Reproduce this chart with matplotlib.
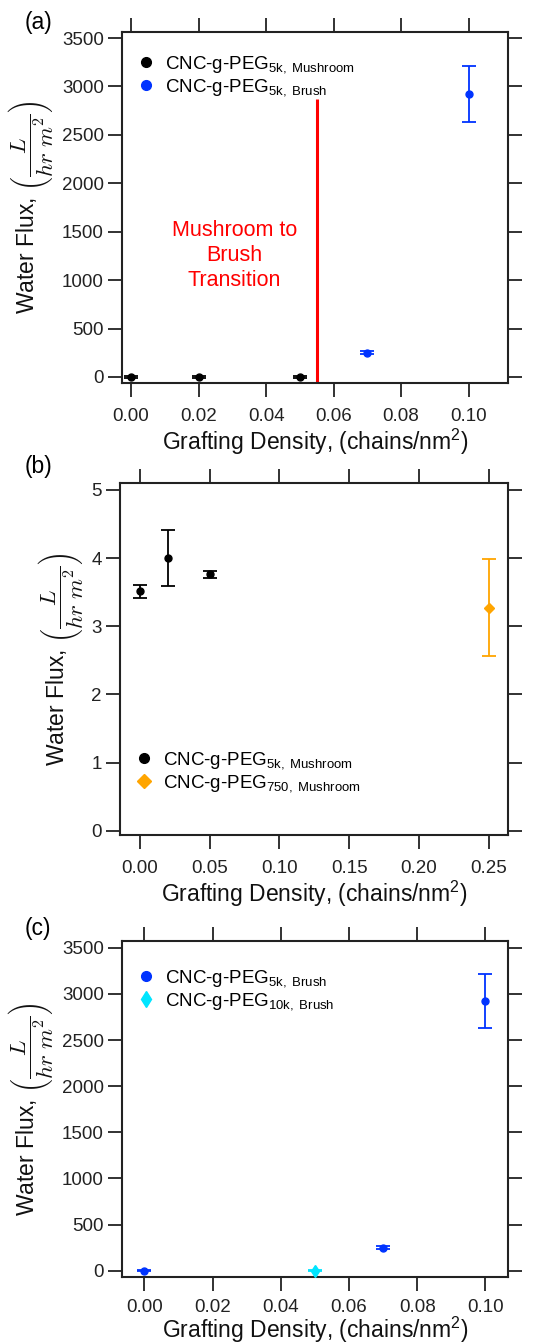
import matplotlib
matplotlib.use('Agg')
import matplotlib.pyplot as plt

plt.rcParams['font.family'] = ['Liberation Sans', 'DejaVu Sans']
plt.rcParams['mathtext.fontset'] = 'custom'
plt.rcParams['mathtext.rm'] = 'Liberation Sans'
plt.rcParams['mathtext.it'] = 'Liberation Sans:italic'
plt.rcParams['font.size'] = 13

# --- data ---
# panel (a)
a_mush_x = [0.00, 0.02, 0.05]
a_mush_y = [0, 0, 0]
a_mush_err = [8, 8, 8]
a_brush_x = [0.07, 0.10]
a_brush_y = [250, 2920]
a_brush_err = [15, 290]
transition_x = 0.055
transition_top = 2870

# panel (b)
b_5k_x = [0.00, 0.02, 0.05]
b_5k_y = [3.51, 4.00, 3.76]
b_5k_err = [0.10, 0.41, 0.05]
b_750_x = [0.25]
b_750_y = [3.27]
b_750_err = [0.71]

# panel (c)
c_5k_x = [0.00, 0.07, 0.10]
c_5k_y = [0, 250, 2920]
c_5k_err = [8, 15, 290]
c_10k_x = [0.05]
c_10k_y = [0]
c_10k_err = [8]

ticks_a = [0.00, 0.02, 0.04, 0.06, 0.08, 0.10]
ticks_b = [0.00, 0.05, 0.10, 0.15, 0.20, 0.25]
yticks_flux = [0, 500, 1000, 1500, 2000, 2500, 3000, 3500]
yticks_b = [0, 1, 2, 3, 4, 5]

BLUE = '#0033ff'
ORANGE = '#ffa500'
CYAN = '#00e5ff'

fig = plt.figure(figsize=(5.42, 13.43), dpi=100)
ax1 = fig.add_axes([0.2251, 0.71482, 0.7122, 0.26135])
ax2 = fig.add_axes([0.2214, 0.37826, 0.7159, 0.2621])
ax3 = fig.add_axes([0.2251, 0.04914, 0.7122, 0.25019])

def style(ax, xpad=1, tpad=8):
    for s in ax.spines.values():
        s.set_linewidth(1.5)
        s.set_color('#222222')
    ax.tick_params(which='both', direction='out', length=10, width=1.3,
                   color='#222222', top=True, right=True, labelsize=13.5,
                   labelcolor='#222222')
    ax.tick_params(axis='x', pad=tpad)
    ax.tick_params(axis='y', pad=3)
    ax.set_xlabel('Grafting Density, (chains/nm$^2$)', fontsize=16.5, labelpad=xpad,
                  color='#111111')
    yl = ax.set_ylabel(r'Water Flux, $\left(\dfrac{L}{hr\ m^2}\right)$', fontsize=16.5,
                       labelpad=4, color='#111111')
    yl.set_math_fontfamily('cm')

def eb(ax, x, y, err, color, marker, ms, label):
    ax.errorbar(x, y, yerr=err, fmt='none', ecolor=color, capsize=5,
                elinewidth=1.3, capthick=1.3, zorder=3)
    ax.plot(x, y, marker, color=color, ms=ms, label=label, zorder=4)

def leg(ax, **kw):
    ax.legend(frameon=False, fontsize=13.5, handletextpad=0.5, borderaxespad=0.4,
              labelspacing=0.1, handlelength=1.0, markerscale=1.4, **kw)

# --- (a) ---
style(ax1)
eb(ax1, a_mush_x, a_mush_y, a_mush_err, 'black', 'o', 5, r'CNC-g-PEG$_{\mathrm{5k,\ Mushroom}}$')
eb(ax1, a_brush_x, a_brush_y, a_brush_err, BLUE, 'o', 5, r'CNC-g-PEG$_{\mathrm{5k,\ Brush}}$')
ax1.set_xlim(-0.0027, 0.1117)
ax1.set_ylim(-62, 3562)
ax1.vlines(transition_x, -62, transition_top, color='red', lw=2.2, zorder=2)
ax1.text(0.0306, 1250, 'Mushroom to\nBrush\nTransition', color='red', fontsize=15.5,
         ha='center', va='center', linespacing=1.25)
ax1.set_xticks(ticks_a)
ax1.set_xticklabels([f'{t:.2f}' for t in ticks_a])
ax1.set_yticks(yticks_flux)
leg(ax1, loc='upper left', bbox_to_anchor=(0.0, 0.979))

# --- (b) ---
style(ax2)
eb(ax2, b_5k_x, b_5k_y, b_5k_err, 'black', 'o', 5, r'CNC-g-PEG$_{\mathrm{5k,\ Mushroom}}$')
eb(ax2, b_750_x, b_750_y, b_750_err, ORANGE, 'D', 5, r'CNC-g-PEG$_{\mathrm{750,\ Mushroom}}$')
ax2.set_xlim(-0.0144, 0.264)
ax2.set_ylim(-0.06, 5.1)
ax2.set_xticks(ticks_b)
ax2.set_xticklabels([f'{t:.2f}' for t in ticks_b])
ax2.set_yticks(yticks_b)
leg(ax2, loc='lower left', bbox_to_anchor=(0.0, 0.075))

# --- (c) ---
style(ax3, xpad=-1, tpad=6)
eb(ax3, c_5k_x, c_5k_y, c_5k_err, BLUE, 'o', 5, r'CNC-g-PEG$_{\mathrm{5k,\ Brush}}$')
eb(ax3, c_10k_x, c_10k_y, c_10k_err, CYAN, 'd', 6, r'CNC-g-PEG$_{\mathrm{10k,\ Brush}}$')
ax3.set_xlim(-0.00654, 0.1066)
ax3.set_ylim(-68, 3573)
ax3.set_xticks(ticks_a)
ax3.set_xticklabels([f'{t:.2f}' for t in ticks_a])
ax3.set_yticks(yticks_flux)
leg(ax3, loc='upper left', bbox_to_anchor=(0.0, 0.964))

fig.text(0.046, 0.9829, '(a)', fontsize=16.5, va='center')
fig.text(0.046, 0.6523, '(b)', fontsize=16.5, va='center')
fig.text(0.046, 0.3090, '(c)', fontsize=16.5, va='center')

fig.savefig('out.png', dpi=100)
